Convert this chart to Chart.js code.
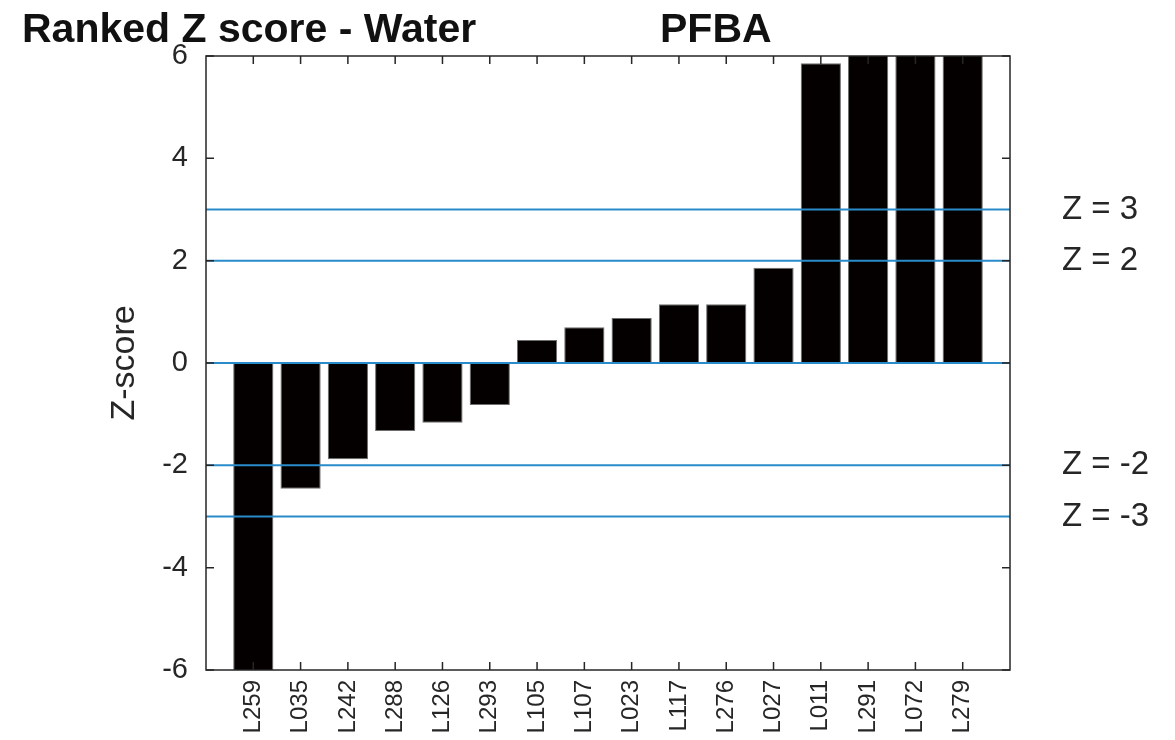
<!DOCTYPE html>
<html>
<meta charset="UTF-8">
<script src="https://cdn.jsdelivr.net/npm/chart.js"></script>
<head>
    <title>Ranked Z score - Water</title>
    <style>
        body { margin: 0; background: #fff; }
        #wrap { width: 1175px; height: 740px; position: relative; }
    </style>
</head>
<body>
<div id="wrap"><canvas id="chart"></canvas></div>
<script>
    // labs, ranked from lowest to highest z-score
    const labs = ['L259', 'L035', 'L242', 'L288', 'L126', 'L293', 'L105', 'L107',
        'L023', 'L117', 'L276', 'L027', 'L011', 'L291', 'L072', 'L279'];
    // values off the plot (|z| > 6 are cut by the axis, so guessed)
    const zScores = [-6.6, -2.46, -1.88, -1.33, -1.17, -0.82, 0.45, 0.70,
        0.88, 1.15, 1.15, 1.86, 5.86, 6.3, 6.6, 6.9];
    const yTicks = [-6, -4, -2, 0, 2, 4, 6];
    const zLimits = [3, 2, 0, -2, -3];
    const limitLabels = ['Z = 3', 'Z = 2', '', 'Z = -2', 'Z = -3'];

    const FONT = '"Liberation Sans", Arial, sans-serif';
    const INK = '#262626';

    const xMin = 0, xMax = labs.length + 1;

    const barData = zScores.map((z, i) => ({x: i + 1, y: z}));
    const limitSets = zLimits.map(z => ({
        type: 'line',
        data: [{x: xMin, y: z}, {x: xMax, y: z}],
        borderColor: '#2a8bcb',
        borderWidth: 2,
        pointRadius: 0,
        order: 0
    }));

    // box, inward ticks, headings and Z = n labels
    const decor = {
        id: 'decor',
        afterDatasetsDraw(chart) {
            const c = chart.ctx, a = chart.chartArea;
            const xs = chart.scales.x, ys = chart.scales.y;
            c.save();
            c.strokeStyle = INK;
            c.lineWidth = 1.5;
            c.strokeRect(a.left, a.top, a.right - a.left, a.bottom - a.top);
            c.beginPath();
            yTicks.forEach(v => {
                const py = ys.getPixelForValue(v);
                c.moveTo(a.left, py); c.lineTo(a.left + 8, py);
                c.moveTo(a.right, py); c.lineTo(a.right - 8, py);
            });
            labs.forEach((_, i) => {
                const px = xs.getPixelForValue(i + 1);
                c.moveTo(px, a.top); c.lineTo(px, a.top + 8);
                c.moveTo(px, a.bottom); c.lineTo(px, a.bottom - 8);
            });
            c.stroke();

            c.fillStyle = INK;
            c.font = '33px ' + FONT;
            c.textAlign = 'left';
            c.textBaseline = 'middle';
            zLimits.forEach((z, i) => {
                if (limitLabels[i]) c.fillText(limitLabels[i], 1062, ys.getPixelForValue(z));
            });

            c.fillStyle = '#111';
            c.font = 'bold 41px ' + FONT;
            c.textBaseline = 'alphabetic';
            c.fillText('Ranked Z score - Water', 22, 42);
            c.fillText('PFBA', 660, 42);
            c.restore();
        }
    };

    const ctx = document.getElementById('chart').getContext('2d');
    new Chart(ctx, {
        data: {
            datasets: [
                {
                    type: 'bar',
                    data: barData,
                    backgroundColor: '#050000',
                    borderColor: '#6e6e6e',
                    borderWidth: 1,
                    barPercentage: 0.85,
                    categoryPercentage: 1,
                    order: 1
                },
                ...limitSets
            ]
        },
        options: {
            responsive: true,
            maintainAspectRatio: false,
            animation: false,
            layout: {padding: {top: 56, right: 165, left: 0, bottom: 0}},
            plugins: {
                legend: {display: false},
                tooltip: {enabled: false}
            },
            scales: {
                x: {
                    type: 'linear',
                    offset: false,
                    min: xMin,
                    max: xMax,
                    grid: {display: false, drawTicks: false, offset: false},
                    border: {display: false},
                    afterBuildTicks: s => { s.ticks = labs.map((_, i) => ({value: i + 1})); },
                    afterFit: s => { s.height = 70; },
                    ticks: {
                        autoSkip: false,
                        minRotation: 90,
                        maxRotation: 90,
                        padding: 10,
                        color: INK,
                        font: {family: FONT, size: 24},
                        callback: v => labs[v - 1]
                    }
                },
                y: {
                    min: -6,
                    max: 6,
                    grid: {display: false, drawTicks: false},
                    border: {display: false},
                    afterBuildTicks: s => { s.ticks = yTicks.map(v => ({value: v})); },
                    afterFit: s => { s.width = 206; },
                    ticks: {
                        padding: 18,
                        color: INK,
                        font: {family: FONT, size: 29}
                    },
                    title: {
                        display: true,
                        text: 'Z-score',
                        color: INK,
                        font: {family: FONT, size: 34},
                        padding: {top: 104, bottom: 0}
                    }
                }
            }
        },
        plugins: [decor]
    });
</script>
</body>
</html>
